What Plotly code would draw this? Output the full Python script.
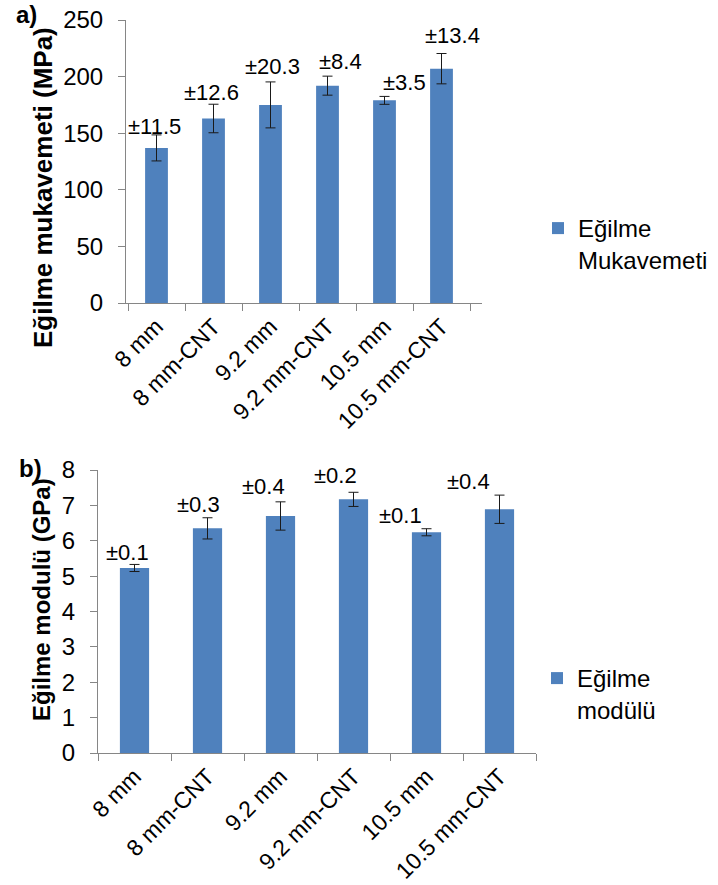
import plotly.graph_objects as go

# Flexural test results for the six specimen groups
categories = ["8 mm", "8 mm-CNT", "9.2 mm", "9.2 mm-CNT", "10.5 mm", "10.5 mm-CNT"]
strength = [137, 163, 175, 192, 179, 207]            # MPa
strength_err = [11.5, 12.6, 20.3, 8.4, 3.5, 13.4]    # MPa
modulus = [5.23, 6.35, 6.70, 7.17, 6.24, 6.89]       # GPa
modulus_err = [0.1, 0.3, 0.4, 0.2, 0.1, 0.4]         # GPa

W, H = 718, 885
BAR = "#4F81BD"
AXIS = "#868686"
FONT = "Liberation Sans, Arial, sans-serif"

# pixel nudges for the "±" labels (x, y) so they sit clear of the error caps
strength_label_shift = [(-2, 8), (-2, 12), (2, 15), (13, 15), (20, 14), (11, 18)]
modulus_label_shift = [(-7, 12), (-9, 13), (-17, 15), (-18, 17), (-26, 13), (-31, 14)]


def px_x(p):
    return p / W


def px_y(p):
    return (H - p) / H


fig = go.Figure()

err_style = dict(type="data", visible=True, color="#1a1a1a", thickness=1, width=5)

fig.add_trace(go.Bar(
    x=categories, y=strength, name="Eğilme<br>Mukavemeti",
    marker=dict(color=BAR, line=dict(width=0)),
    error_y=dict(array=strength_err, **err_style),
    xaxis="x", yaxis="y", legend="legend",
))
fig.add_trace(go.Bar(
    x=categories, y=modulus, name="Eğilme<br>modülü",
    marker=dict(color=BAR, line=dict(width=0)),
    error_y=dict(array=modulus_err, **err_style),
    xaxis="x2", yaxis="y2", legend="legend2",
))

xcommon = dict(
    type="category", showline=True, linecolor=AXIS, linewidth=1,
    ticks="outside", tickson="boundaries", ticklen=7, tickcolor=AXIS,
    tickangle=-45, tickfont=dict(size=23, color="#000000", family=FONT),
    showgrid=False, zeroline=False, automargin=False,
)
ycommon = dict(
    showline=True, linecolor=AXIS, linewidth=1,
    ticks="outside", ticklen=7, tickcolor=AXIS, ticklabelstandoff=10,
    tickfont=dict(size=24, color="#000000", family=FONT),
    showgrid=False, zeroline=False, automargin=False,
)

legend_style = dict(xanchor="left", yanchor="top", valign="top",
                    font=dict(size=24, family=FONT),
                    bgcolor="rgba(0,0,0,0)", itemwidth=30,
                    borderwidth=0, tracegroupgap=0)

fig.update_layout(
    width=W, height=H, autosize=False,
    margin=dict(l=0, r=0, t=0, b=0, pad=0),
    paper_bgcolor="white", plot_bgcolor="white",
    font=dict(family=FONT, color="#000000"),
    bargap=0.6,
    xaxis=dict(domain=[px_x(126), px_x(482)], anchor="y", **xcommon),
    yaxis=dict(domain=[px_y(303), px_y(20)], anchor="x",
               range=[0, 250], dtick=50, **ycommon),
    xaxis2=dict(domain=[px_x(98), px_x(536)], anchor="y2", **xcommon),
    yaxis2=dict(domain=[px_y(753), px_y(470)], anchor="x2",
                range=[0, 8], dtick=1, **ycommon),
    legend=dict(x=px_x(538), y=px_y(206), **legend_style),
    legend2=dict(x=px_x(537), y=px_y(656), **legend_style),
    showlegend=True,
)

annotations = []
for cat, v, e, (dx, dy) in zip(categories, strength, strength_err, strength_label_shift):
    annotations.append(dict(
        x=cat, y=v + e, xref="x", yref="y", text=f"±{e}", showarrow=False,
        xanchor="center", yanchor="middle",
        xshift=dx, yshift=dy, font=dict(size=22, family=FONT),
    ))
for cat, v, e, (dx, dy) in zip(categories, modulus, modulus_err, modulus_label_shift):
    annotations.append(dict(
        x=cat, y=v + e, xref="x2", yref="y2", text=f"±{e}", showarrow=False,
        xanchor="center", yanchor="middle",
        xshift=dx, yshift=dy, font=dict(size=22, family=FONT),
    ))

# axis titles and panel letters
centered = dict(xref="paper", yref="paper", xanchor="center", yanchor="middle",
                showarrow=False)
annotations += [
    dict(x=px_x(43), y=px_y(188), text="<b>Eğilme mukavemeti (MPa)</b>",
         textangle=-90, font=dict(size=26, family=FONT), **centered),
    dict(x=px_x(41), y=px_y(600), text="<b>Eğilme modulü (GPa)</b>",
         textangle=-90, font=dict(size=24, family=FONT), **centered),
    dict(x=px_x(26), y=px_y(15), text="<b>a)</b>",
         font=dict(size=24, family=FONT), **centered),
    dict(x=px_x(30), y=px_y(468), text="<b>b)</b>",
         font=dict(size=24, family=FONT), **centered),
]
fig.update_layout(annotations=annotations)

fig.write_html("out.html")
